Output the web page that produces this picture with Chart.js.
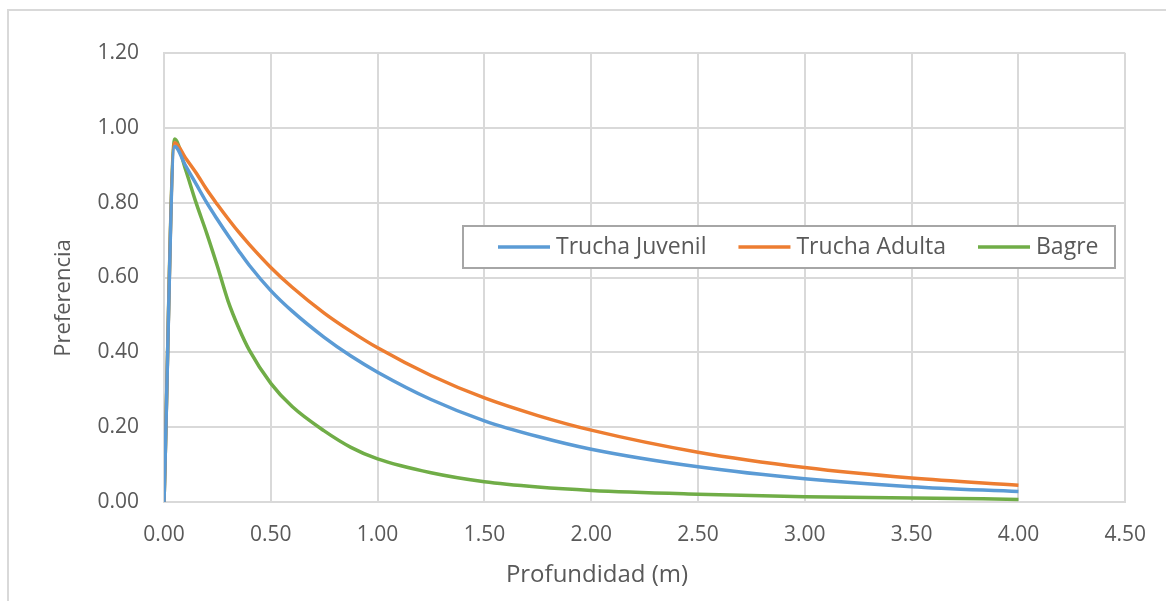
<!DOCTYPE html>
<html>
<head>
<meta charset="utf-8">
<script src="https://cdn.jsdelivr.net/npm/chart.js@4/dist/chart.umd.min.js"></script>
<style>
    html, body { margin: 0; padding: 0; background: #fff; }
    #wrap { position: relative; width: 1166px; height: 601px; }
</style>
</head>
<body>
<div id="wrap"><canvas id="chart" width="1166" height="601"></canvas></div>
<script>
// Depth (m) sample points
const depth = [0, 0.05, 0.1, 0.15, 0.2, 0.25, 0.3, 0.35, 0.4, 0.5, 0.6, 0.75, 0.875, 1.0, 1.25, 1.5, 1.75, 2.0, 2.5, 3.0, 3.5, 4.0];

// Preference values per species
const truchaJuvenil = [0, 0.95, 0.90, 0.85, 0.80, 0.755, 0.712, 0.671, 0.632, 0.565, 0.51, 0.44, 0.39, 0.347, 0.274, 0.217, 0.175, 0.141, 0.094, 0.062, 0.041, 0.028];
const truchaAdulta  = [0, 0.96, 0.92, 0.88, 0.835, 0.795, 0.757, 0.721, 0.688, 0.627, 0.574, 0.505, 0.456, 0.412, 0.338, 0.278, 0.231, 0.192, 0.133, 0.092, 0.064, 0.045];
const bagre         = [0, 0.97, 0.89, 0.80, 0.718, 0.63, 0.537, 0.465, 0.405, 0.317, 0.255, 0.19, 0.146, 0.115, 0.078, 0.054, 0.04, 0.031, 0.021, 0.014, 0.011, 0.007];

const seriesNames = ['Trucha Juvenil', 'Trucha Adulta', 'Bagre'];
const seriesColors = ['#5B9BD5', '#ED7D31', '#70AD47'];

const xTicks = [0, 0.5, 1.0, 1.5, 2.0, 2.5, 3.0, 3.5, 4.0, 4.5];
const yTicks = [0, 0.2, 0.4, 0.6, 0.8, 1.0, 1.2];

const textColor = '#595959';
const gridColor = '#d9d9d9';
const fontFamily = '"Open Sans", "Noto Sans", sans-serif';

function toPoints(values) {
    return depth.map((d, i) => ({ x: d, y: values[i] }));
}

// Frame around the whole chart, plus axis titles and the inner legend box
const decorPlugin = {
    id: 'decor',
    beforeDraw(chart) {
        const ctx = chart.ctx;
        ctx.save();
        ctx.fillStyle = '#fff';
        ctx.fillRect(0, 0, chart.width, chart.height);
        ctx.strokeStyle = gridColor;
        ctx.lineWidth = 2;
        ctx.beginPath();
        ctx.moveTo(8, chart.height);
        ctx.lineTo(8, 10);
        ctx.lineTo(chart.width, 10);
        ctx.stroke();
        ctx.restore();
    },
    afterDraw(chart) {
        const ctx = chart.ctx;
        const area = chart.chartArea;
        ctx.save();
        ctx.fillStyle = textColor;
        ctx.textAlign = 'center';
        ctx.textBaseline = 'middle';

        // axis titles
        ctx.font = '24px ' + fontFamily;
        ctx.fillText('Profundidad (m)', 597, 575);
        ctx.translate(64, 298);
        ctx.rotate(-Math.PI / 2);
        ctx.font = '22px ' + fontFamily;
        ctx.fillText('Preferencia', 0, 0);
        ctx.setTransform(1, 0, 0, 1, 0, 0);

        // legend
        const box = { left: area.left + 299, top: area.top + 173, width: 652, height: 42 };
        ctx.fillStyle = '#fff';
        ctx.fillRect(box.left, box.top, box.width, box.height);
        ctx.strokeStyle = '#a6a6a6';
        ctx.lineWidth = 2;
        ctx.strokeRect(box.left, box.top, box.width, box.height);

        ctx.font = '23px ' + fontFamily;
        ctx.textAlign = 'left';
        const midY = box.top + box.height / 2;
        let x = box.left + 35;
        chart.data.datasets.forEach((ds) => {
            ctx.strokeStyle = ds.borderColor;
            ctx.lineWidth = 3.5;
            ctx.beginPath();
            ctx.moveTo(x, midY);
            ctx.lineTo(x + 52, midY);
            ctx.stroke();
            x += 58;
            ctx.fillStyle = textColor;
            ctx.fillText(ds.label, x, midY);
            x += ctx.measureText(ds.label).width + 32;
        });
        ctx.restore();
    }
};

const ctx = document.getElementById('chart').getContext('2d');
new Chart(ctx, {
    type: 'scatter',
    data: {
        datasets: [truchaJuvenil, truchaAdulta, bagre].map((vals, i) => ({
            label: seriesNames[i],
            data: toPoints(vals),
            showLine: true,
            borderColor: seriesColors[i],
            backgroundColor: seriesColors[i],
            borderWidth: 3.5,
            pointRadius: 0,
            cubicInterpolationMode: 'monotone'
        }))
    },
    options: {
        responsive: false,
        animation: false,
        layout: {
            padding: { top: 53, right: 37, left: 0, bottom: 0 }
        },
        plugins: {
            legend: { display: false },
            tooltip: { enabled: false }
        },
        scales: {
            x: {
                type: 'linear',
                min: 0,
                max: 4.5,
                afterBuildTicks: (scale) => { scale.ticks = xTicks.map(v => ({ value: v })); },
                afterFit: (scale) => { scale.height = 99; },
                ticks: {
                    color: textColor,
                    padding: 20,
                    maxRotation: 0,
                    font: { family: fontFamily, size: 21 },
                    callback: (v) => Number(v).toFixed(2)
                },
                grid: { color: gridColor, lineWidth: 2, drawTicks: false },
                border: { color: gridColor, width: 2 }
            },
            y: {
                min: 0,
                max: 1.2,
                afterBuildTicks: (scale) => { scale.ticks = yTicks.map(v => ({ value: v })); },
                afterFit: (scale) => { scale.width = 164; },
                ticks: {
                    color: textColor,
                    padding: 25,
                    font: { family: fontFamily, size: 21 },
                    callback: (v) => Number(v).toFixed(2)
                },
                grid: { color: gridColor, lineWidth: 2, drawTicks: false },
                border: { color: gridColor, width: 2 }
            }
        }
    },
    plugins: [decorPlugin]
});
</script>
</body>
</html>
